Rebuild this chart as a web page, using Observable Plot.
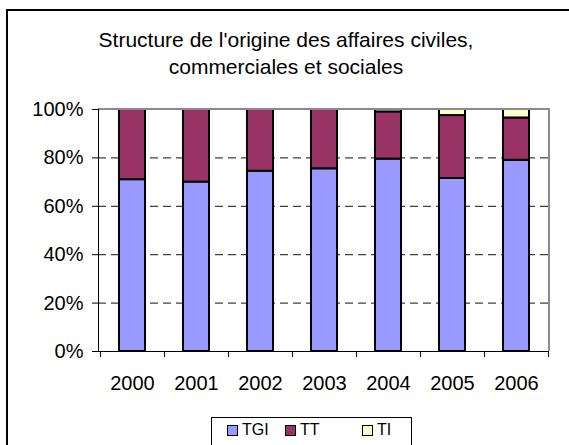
<!DOCTYPE html>
<html><head><meta charset="utf-8">
<script src="https://cdn.jsdelivr.net/npm/d3@7"></script>
<script src="https://cdn.jsdelivr.net/npm/@observablehq/plot@0.6"></script>
<style>
body{margin:0;background:#fff;font-family:"Liberation Sans",Arial,sans-serif;}
#chart{position:relative;width:569px;height:445px;overflow:hidden;background:#fff}
#frame{position:absolute;left:6px;top:9px;width:640px;height:520px;border:2px solid #000;box-sizing:border-box}
#title{position:absolute;left:0;top:26px;width:572px;text-align:center;font-size:21px;line-height:27px;color:#000}
#plot{position:absolute;left:0;top:100px}
#legend{position:absolute;left:211px;top:417px;width:201px;height:60px;border:1px solid #000;box-sizing:border-box;background:#fff}
.item{position:absolute;top:0;height:24px;display:flex;align-items:center;font-size:16px;color:#000}
.sw{width:9px;height:9px;border:1.5px solid #000;margin-right:4px}
</style></head>
<body>
<div id="chart">
  <div id="frame"></div>
  <div id="title">Structure de l'origine des affaires civiles,<br>commerciales et sociales</div>
  <div id="plot"></div>
  <div id="legend"></div>
</div>
<script>
const years = ["2000","2001","2002","2003","2004","2005","2006"];
const series = ["TGI","TT","TI"];
const colors = ["#9999FF","#993366","#FFFFCC"];
const tgi = [71, 70, 74.5, 75.5, 79.5, 71.5, 79];
const tt  = [29, 30, 25.5, 24.5, 19.5, 26, 17.5];
const ti  = [0, 0, 0, 0, 1, 2.5, 3.5];
const yTicks = [0, 0.2, 0.4, 0.6, 0.8, 1];
const gridTicks = [0.2, 0.4, 0.6, 0.8];

const valuesBySeries = {TGI: tgi, TT: tt, TI: ti};
const data = [];
years.forEach((yr, i) => series.forEach(s => {
  const v = valuesBySeries[s][i];
  if (v > 0) data.push({year: yr, series: s, value: v});
}));

function frameAndTicks(index, scales, values, dims) {
  const {x} = scales;
  const step = typeof x.step === "function" ? x.step() : x.step;
  const bw = typeof x.bandwidth === "function" ? x.bandwidth() : x.bandwidth;
  const half = (step - bw) / 2;
  const bounds = years.map(yr => x(yr) - half);
  bounds.push(x(years[years.length - 1]) + bw + half);
  const left = dims.marginLeft, right = dims.width - dims.marginRight;
  const top = dims.marginTop, bottom = dims.height - dims.marginBottom;
  const g = d3.create("svg:g");
  g.append("path").attr("d", `M${left},${top}H${right}V${bottom}`)
    .attr("fill", "none").attr("stroke", "#8c8c8c").attr("stroke-width", 2);
  g.append("line").attr("x1", left + 0.5).attr("x2", left + 0.5).attr("y1", top).attr("y2", bottom)
    .attr("stroke", "#000");
  g.append("line").attr("x1", left).attr("x2", right).attr("y1", bottom + 0.5).attr("y2", bottom + 0.5)
    .attr("stroke", "#000");
  for (const b of bounds) {
    g.append("line").attr("x1", Math.round(b) + 0.5).attr("x2", Math.round(b) + 0.5)
      .attr("y1", bottom).attr("y2", bottom + 6).attr("stroke", "#000");
  }
  return g.node();
}

const plot = Plot.plot({
  width: 569,
  height: 290,
  marginTop: 9,
  marginBottom: 39,
  marginLeft: 98,
  marginRight: 20,
  style: {fontFamily: '"Liberation Sans", Arial, sans-serif', fontSize: "20px", color: "#000", background: "transparent", overflow: "visible"},
  x: {domain: years, paddingInner: 0.6, paddingOuter: 0.3, label: null},
  y: {domain: [0, 1], label: null},
  color: {domain: series, range: colors},
  marks: [
    Plot.ruleY(gridTicks, {stroke: "#111", strokeDasharray: "8,5", strokeWidth: 1}),
    Plot.barY(data, Plot.stackY({x: "year", y: "value", fill: "series", offset: "normalize", order: series, stroke: "#000", strokeWidth: 2})),
    frameAndTicks,
    Plot.axisY({ticks: yTicks, tickFormat: d3.format(".0%"), tickSize: 6, tickPadding: 9, stroke: "#000", label: null, fontSize: 20}),
    Plot.axisX({tickSize: 0, tickPadding: 24, label: null, fontSize: 20})
  ]
});
document.getElementById("plot").appendChild(plot);

const legend = document.getElementById("legend");
const itemLeft = [15, 73, 150];
series.forEach((s, i) => {
  const it = document.createElement("div");
  it.className = "item";
  it.style.left = itemLeft[i] + "px";
  const sw = document.createElement("div");
  sw.className = "sw";
  sw.style.background = colors[i];
  it.appendChild(sw);
  const t = document.createElement("span");
  t.textContent = s;
  it.appendChild(t);
  legend.appendChild(it);
});
</script>
</body></html>
